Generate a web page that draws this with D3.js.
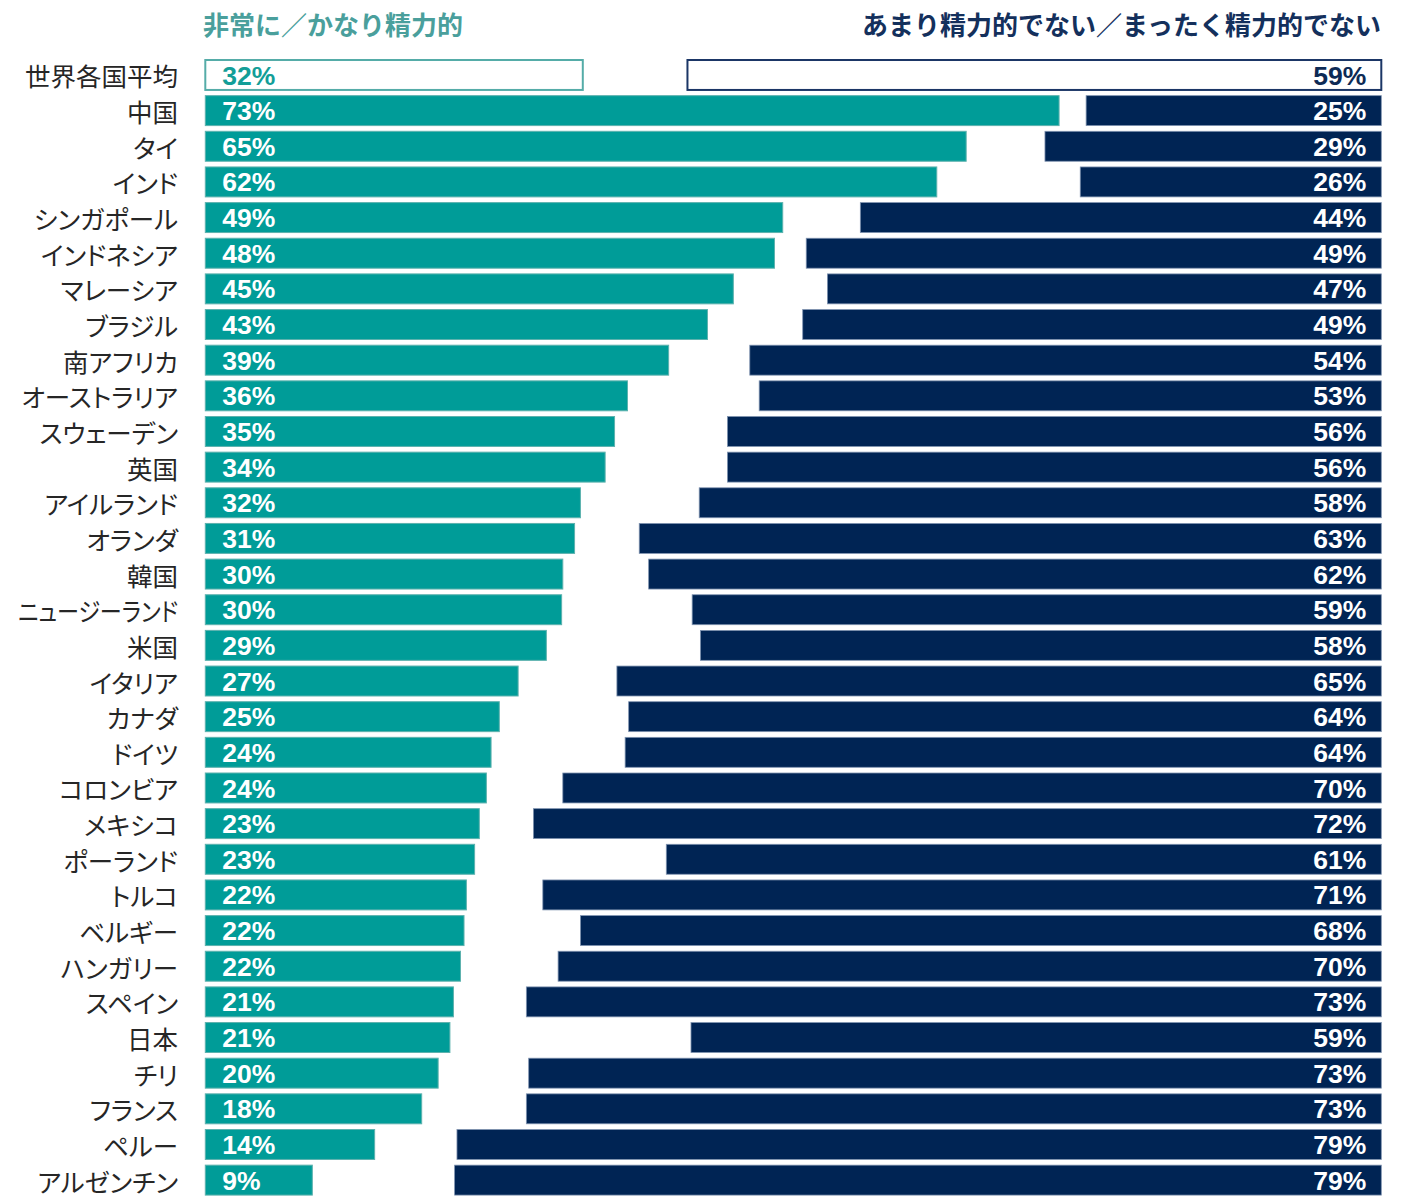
<!DOCTYPE html>
<html>
<head>
<meta charset="utf-8">
<script src="https://cdn.jsdelivr.net/npm/d3@7"></script>
<style>
  body { margin: 0; background: #fff; }
  .cat { font-family: "Noto Sans CJK JP", sans-serif; font-size: 25.5px; fill: #262626; font-feature-settings: "palt"; }
  .head { font-family: "Noto Sans CJK JP", sans-serif; font-size: 26px; font-weight: bold; }
  .pct { font-family: "Liberation Sans", Arial, sans-serif; font-size: 26.5px; font-weight: bold; }
</style>
</head>
<body>
<div id="chart"></div>
<script>
var countries = ["世界各国平均","中国","タイ","インド","シンガポール","インドネシア","マレーシア","ブラジル",
  "南アフリカ","オーストラリア","スウェーデン","英国","アイルランド","オランダ","韓国","ニュージーランド",
  "米国","イタリア","カナダ","ドイツ","コロンビア","メキシコ","ポーランド","トルコ","ベルギー",
  "ハンガリー","スペイン","日本","チリ","フランス","ペルー","アルゼンチン"];

// 非常に／かなり精力的 (%)
var engaged = [32.1, 72.6, 64.7, 62.2, 49.1, 48.4, 44.9, 42.7, 39.4, 35.9, 34.8, 34.0, 31.9, 31.4, 30.4, 30.3,
  29.0, 26.6, 25.0, 24.3, 23.9, 23.3, 22.9, 22.2, 22.0, 21.7, 21.1, 20.8, 19.8, 18.4, 14.4, 9.1];

// あまり精力的でない／まったく精力的でない (%)
var notEngaged = [59.0, 25.1, 28.6, 25.6, 44.3, 48.9, 47.1, 49.2, 53.7, 52.9, 55.6, 55.6, 58.0, 63.1, 62.3, 58.6,
  57.9, 65.0, 64.0, 64.3, 69.6, 72.1, 60.8, 71.3, 68.1, 70.0, 72.7, 58.7, 72.5, 72.7, 78.6, 78.8];

var headers = ["非常に／かなり精力的", "あまり精力的でない／まったく精力的でない"];

var teal = "#009c98", navy = "#002454";

var data = countries.map(function(c, i){
  return {name: c, pos: engaged[i], neg: notEngaged[i], avg: i === 0};
});

var svg = d3.select("#chart").append("svg")
  .attr("width", 1409)
  .attr("height", 1198);

var x = d3.scaleLinear().domain([0, 100]).range([205.3, 1381.3]);
var y = d3.scaleBand().domain(countries).range([54.3, 1200.8]).padding(0.16);

// headers
svg.append("text").attr("class", "head")
  .attr("x", 203).attr("y", 23).attr("dominant-baseline", "central")
  .attr("fill", "#4a9f9c").text(headers[0]);
svg.append("text").attr("class", "head")
  .attr("x", 1381).attr("y", 23).attr("dominant-baseline", "central")
  .attr("text-anchor", "end")
  .attr("fill", "#14305c").text(headers[1]);

// category labels (long ones squeezed to fit the margin)
var labelMax = 160;
svg.append("g").selectAll("text").data(data).join("text")
  .attr("class", "cat")
  .attr("x", 178)
  .attr("y", function(d){ return y(d.name) + y.bandwidth()/2; })
  .attr("dominant-baseline", "central")
  .attr("text-anchor", "end")
  .text(function(d){ return d.name; })
  .each(function(){
    if (this.getComputedTextLength() > labelMax) {
      d3.select(this).attr("textLength", labelMax).attr("lengthAdjust", "spacingAndGlyphs");
    }
  });

// engaged bars
svg.append("g").selectAll("rect").data(data).join("rect")
  .attr("x", x(0))
  .attr("y", function(d){ return y(d.name); })
  .attr("width", function(d){ return x(d.pos) - x(0); })
  .attr("height", y.bandwidth())
  .attr("fill", function(d){ return d.avg ? "#fff" : teal; })
  .attr("stroke", function(d){ return d.avg ? "#55aca8" : "#5db2ae"; })
  .attr("stroke-width", function(d){ return d.avg ? 2 : 1; });

// not engaged bars
svg.append("g").selectAll("rect").data(data).join("rect")
  .attr("x", function(d){ return x(100 - d.neg); })
  .attr("y", function(d){ return y(d.name); })
  .attr("width", function(d){ return x(100) - x(100 - d.neg); })
  .attr("height", y.bandwidth())
  .attr("fill", function(d){ return d.avg ? "#fff" : navy; })
  .attr("stroke", function(d){ return d.avg ? "#1b3666" : "#7f93b0"; })
  .attr("stroke-width", function(d){ return d.avg ? 2 : 0.8; });

// value labels
svg.append("g").selectAll("text").data(data).join("text")
  .attr("class", "pct")
  .attr("x", x(0) + 17)
  .attr("y", function(d){ return y(d.name) + y.bandwidth()/2; })
  .attr("dy", "0.36em")
  .attr("fill", function(d){ return d.avg ? "#139e98" : "#fff"; })
  .text(function(d){ return Math.round(d.pos) + "%"; });

svg.append("g").selectAll("text").data(data).join("text")
  .attr("class", "pct")
  .attr("x", x(100) - 15)
  .attr("y", function(d){ return y(d.name) + y.bandwidth()/2; })
  .attr("dy", "0.36em")
  .attr("text-anchor", "end")
  .attr("fill", function(d){ return d.avg ? "#0d2a55" : "#fff"; })
  .text(function(d){ return Math.round(d.neg) + "%"; });
</script>
</body>
</html>
